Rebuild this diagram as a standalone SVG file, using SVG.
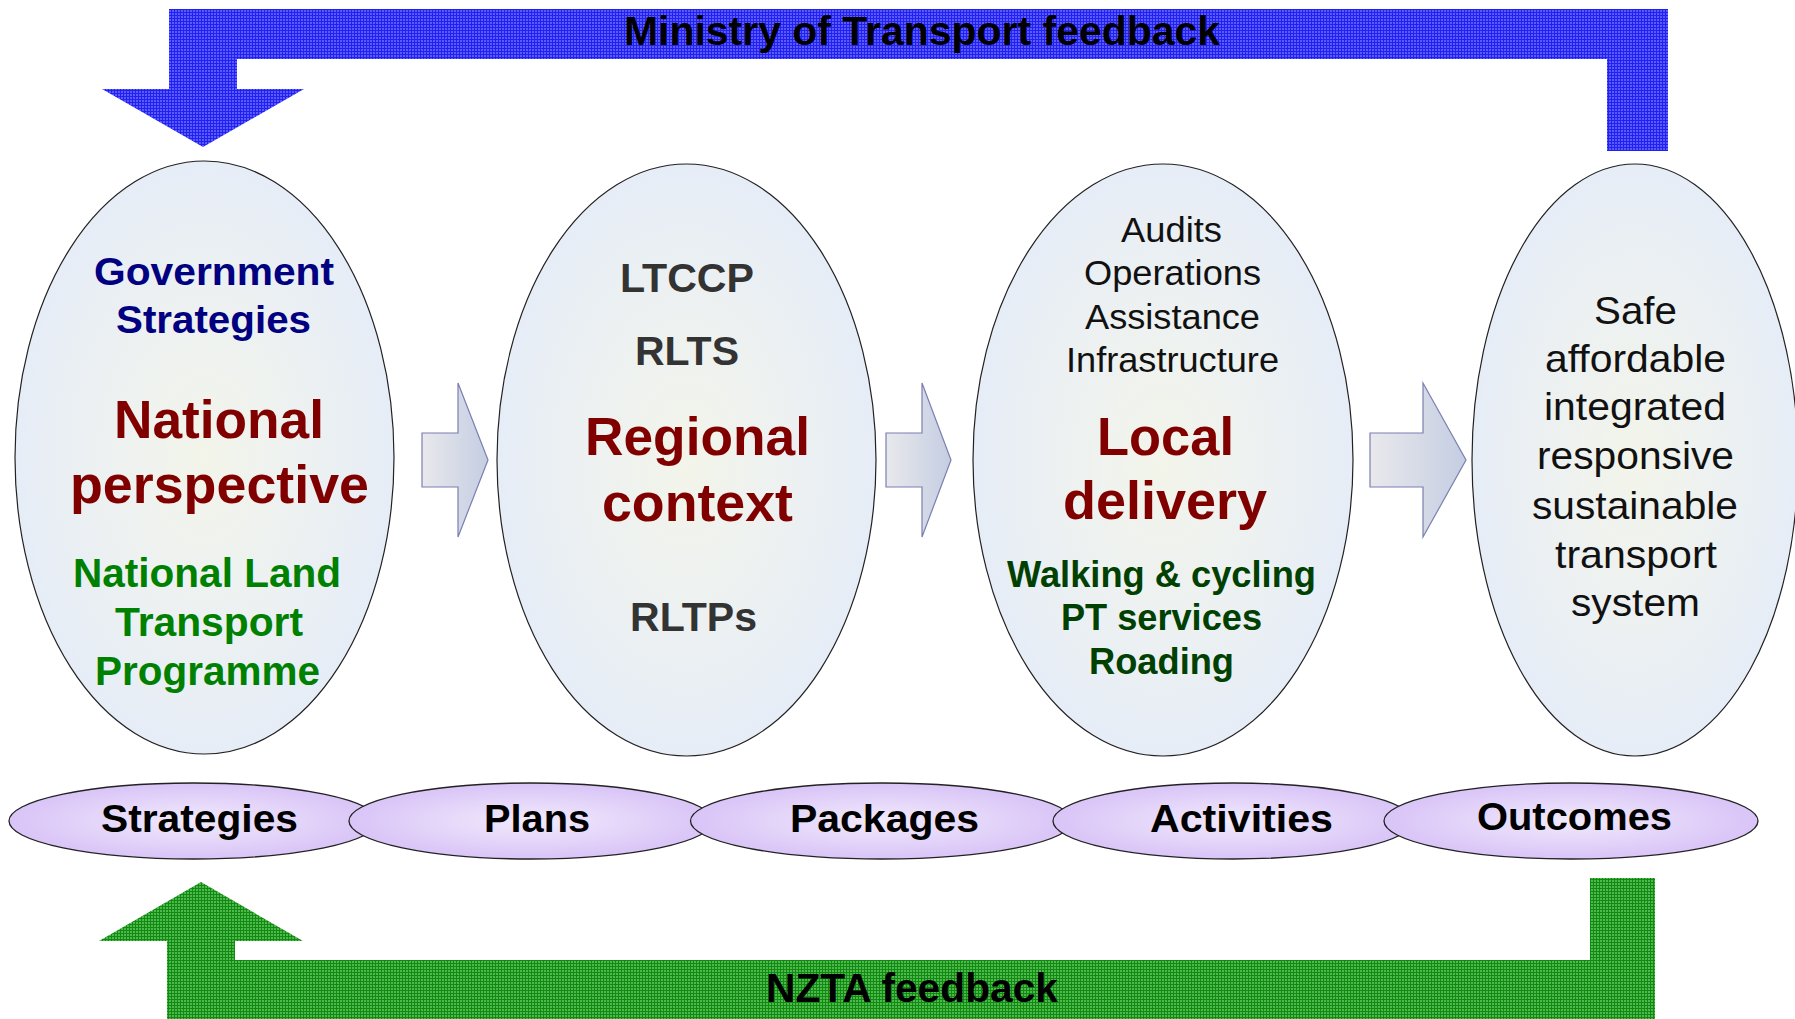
<svg xmlns="http://www.w3.org/2000/svg" width="1795" height="1019" viewBox="0 0 1795 1019">
<defs>
<pattern id="blueHatch" width="3" height="3" patternUnits="userSpaceOnUse">
<rect width="3" height="3" fill="#5a5aff"/>
<rect width="3" height="1" fill="#2222f0"/>
<rect width="1" height="3" fill="#2222f0"/>
</pattern>
<pattern id="greenHatch" width="3" height="3" patternUnits="userSpaceOnUse">
<rect width="3" height="3" fill="#4fb84f"/>
<rect width="3" height="1" fill="#118a11"/>
<rect width="1" height="3" fill="#118a11"/>
</pattern>
<radialGradient id="bigFill" cx="50%" cy="50%" r="50%">
<stop offset="0%" stop-color="#f3f5ea"/>
<stop offset="100%" stop-color="#e7edf7"/>
</radialGradient>
<radialGradient id="smallFill" cx="50%" cy="50%" r="50%">
<stop offset="0%" stop-color="#f1eafc"/>
<stop offset="100%" stop-color="#d9c4f7"/>
</radialGradient>
<linearGradient id="arrowFill" x1="0" y1="0" x2="1" y2="0">
<stop offset="0%" stop-color="#e9e9ec"/>
<stop offset="100%" stop-color="#c4cde2"/>
</linearGradient>
<style>
.big{fill:url(#bigFill);stroke:#222;stroke-width:1.2}
.small{fill:url(#smallFill);stroke:#222;stroke-width:1.3}
.blk{fill:url(#arrowFill);stroke:#7a7fb0;stroke-width:1.2}
.b{font-family:"Liberation Sans",Arial,sans-serif;font-weight:bold;text-anchor:middle}
.n{font-family:"Liberation Sans",Arial,sans-serif;font-weight:normal;text-anchor:middle}
.navy{fill:#000080;font-size:39px}
.red{fill:#800000;font-size:53px}
.green{fill:#008000;font-size:40px}
.gray{fill:#333333;font-size:40px}
.dgreen{fill:#004000;font-size:37px}
.lst{fill:#111;font-size:35px}
.out{fill:#111;font-size:39px}
.lab{fill:#000;font-size:39px}
.fb{fill:#000;font-size:40px}
</style>
</defs>

<g id="connectors">
<path id="ministry-feedback" fill="url(#blueHatch)" d="M169,9 L1668,9 L1668,151 L1607,151 L1607,59 L237,59 L237,89 L304,89 L203,147 L102,89 L169,89 Z"/>
<path id="nzta-feedback" fill="url(#greenHatch)" d="M167,1019 L167,941 L99,941 L201,882 L303,941 L235,941 L235,960 L1590,960 L1590,878 L1655,878 L1655,1019 Z"/>
<path id="arrow1" class="blk" d="M422,433 L458,433 L458,383 L488,460 L458,537 L458,487 L422,487 Z"/>
<path id="arrow2" class="blk" d="M886,433 L922,433 L922,383 L951,460 L922,537 L922,487 L886,487 Z"/>
<path id="arrow3" class="blk" d="M1370,433 L1423,433 L1423,383 L1466,460 L1423,537 L1423,487 L1370,487 Z"/>
<text class="b fb" x="922" y="45" textLength="596" lengthAdjust="spacingAndGlyphs">Ministry of Transport feedback</text>
<text class="b fb" x="912" y="1002" textLength="292" lengthAdjust="spacingAndGlyphs">NZTA feedback</text>
</g>

<g id="national">
<ellipse class="big" cx="204.5" cy="457.5" rx="189.5" ry="296.5"/>
<text class="b navy" x="214" y="285" textLength="240" lengthAdjust="spacingAndGlyphs">Government</text>
<text class="b navy" x="213.5" y="333" textLength="195" lengthAdjust="spacingAndGlyphs">Strategies</text>
<text class="b red" x="219" y="438" textLength="210" lengthAdjust="spacingAndGlyphs">National</text>
<text class="b red" x="219.5" y="503" textLength="299" lengthAdjust="spacingAndGlyphs">perspective</text>
<text class="b green" x="207" y="587" textLength="268" lengthAdjust="spacingAndGlyphs">National Land</text>
<text class="b green" x="209" y="636" textLength="188" lengthAdjust="spacingAndGlyphs">Transport</text>
<text class="b green" x="207.5" y="685" textLength="225" lengthAdjust="spacingAndGlyphs">Programme</text>
</g>

<g id="regional">
<ellipse class="big" cx="686.5" cy="460" rx="189.5" ry="296"/>
<text class="b gray" x="687" y="292" textLength="134" lengthAdjust="spacingAndGlyphs">LTCCP</text>
<text class="b gray" x="687" y="365" textLength="104" lengthAdjust="spacingAndGlyphs">RLTS</text>
<text class="b red" x="697.5" y="455" textLength="225" lengthAdjust="spacingAndGlyphs">Regional</text>
<text class="b red" x="697.5" y="521" textLength="191" lengthAdjust="spacingAndGlyphs">context</text>
<text class="b gray" x="693.5" y="631" textLength="127" lengthAdjust="spacingAndGlyphs">RLTPs</text>
</g>

<g id="local">
<ellipse class="big" cx="1163" cy="460" rx="190" ry="296"/>
<text class="n lst" x="1171.5" y="242" textLength="101" lengthAdjust="spacingAndGlyphs">Audits</text>
<text class="n lst" x="1172.5" y="285" textLength="177" lengthAdjust="spacingAndGlyphs">Operations</text>
<text class="n lst" x="1172.5" y="329" textLength="175" lengthAdjust="spacingAndGlyphs">Assistance</text>
<text class="n lst" x="1172.5" y="372" textLength="213" lengthAdjust="spacingAndGlyphs">Infrastructure</text>
<text class="b red" x="1165.5" y="455" textLength="137" lengthAdjust="spacingAndGlyphs">Local</text>
<text class="b red" x="1165" y="519" textLength="204" lengthAdjust="spacingAndGlyphs">delivery</text>
<text class="b dgreen" x="1161.5" y="587" textLength="309" lengthAdjust="spacingAndGlyphs">Walking &amp; cycling</text>
<text class="b dgreen" x="1161.5" y="630" textLength="201" lengthAdjust="spacingAndGlyphs">PT services</text>
<text class="b dgreen" x="1161.5" y="674" textLength="145" lengthAdjust="spacingAndGlyphs">Roading</text>
</g>

<g id="outcome-system">
<ellipse class="big" cx="1635" cy="460" rx="163" ry="296"/>
<text class="n out" x="1635.5" y="324" textLength="83" lengthAdjust="spacingAndGlyphs">Safe</text>
<text class="n out" x="1635.5" y="372" textLength="181" lengthAdjust="spacingAndGlyphs">affordable</text>
<text class="n out" x="1635" y="420" textLength="182" lengthAdjust="spacingAndGlyphs">integrated</text>
<text class="n out" x="1635.5" y="469" textLength="197" lengthAdjust="spacingAndGlyphs">responsive</text>
<text class="n out" x="1635" y="519" textLength="206" lengthAdjust="spacingAndGlyphs">sustainable</text>
<text class="n out" x="1636" y="568" textLength="162" lengthAdjust="spacingAndGlyphs">transport</text>
<text class="n out" x="1635.5" y="616" textLength="129" lengthAdjust="spacingAndGlyphs">system</text>
</g>

<g id="strategies">
<ellipse class="small" cx="193.5" cy="821" rx="184.5" ry="38"/>
<text class="b lab" x="199.5" y="832" textLength="197" lengthAdjust="spacingAndGlyphs">Strategies</text>
</g>
<g id="plans">
<ellipse class="small" cx="531" cy="821" rx="182" ry="38"/>
<text class="b lab" x="537" y="832" textLength="106" lengthAdjust="spacingAndGlyphs">Plans</text>
</g>
<g id="packages">
<ellipse class="small" cx="881.5" cy="821" rx="191" ry="38"/>
<text class="b lab" x="884.5" y="832" textLength="189" lengthAdjust="spacingAndGlyphs">Packages</text>
</g>
<g id="activities">
<ellipse class="small" cx="1233" cy="821" rx="180" ry="38"/>
<text class="b lab" x="1241.5" y="832" textLength="183" lengthAdjust="spacingAndGlyphs">Activities</text>
</g>
<g id="outcomes">
<ellipse class="small" cx="1571" cy="821" rx="187" ry="38"/>
<text class="b lab" x="1574.5" y="830" textLength="195" lengthAdjust="spacingAndGlyphs">Outcomes</text>
</g>
</svg>
